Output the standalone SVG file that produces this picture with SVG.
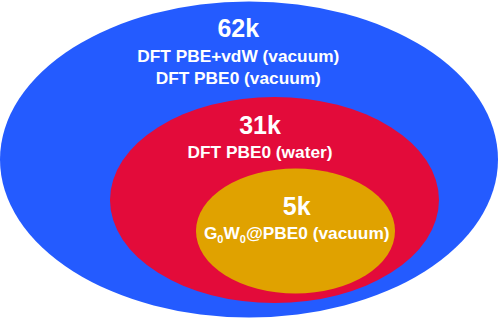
<svg xmlns="http://www.w3.org/2000/svg" width="498" height="319" viewBox="0 0 498 319">
<style>
text{font-family:"Liberation Sans",Arial,sans-serif;font-weight:bold;fill:#ffffff;text-anchor:middle}
.big{font-size:25px}
.lbl{font-size:17.3px}
.sub{font-size:11px}
</style>
<rect width="498" height="319" fill="#ffffff"/>
<g id="node-62k">
<ellipse cx="249" cy="159.5" rx="249" ry="158" fill="#245BFF"/>
<text class="big" x="238.3" y="36.7">62k</text>
<text class="lbl" x="238.3" y="62.3">DFT PBE+vdW (vacuum)</text>
<text class="lbl" x="238.3" y="84">DFT PBE0 (vacuum)</text>
</g>
<g id="node-31k">
<ellipse cx="274.5" cy="200" rx="164.5" ry="103" fill="#E30B3A"/>
<text class="big" x="260" y="134">31k</text>
<text class="lbl" x="260" y="158.3">DFT PBE0 (water)</text>
</g>
<g id="node-5k">
<ellipse cx="295.5" cy="231" rx="99.5" ry="62.5" fill="#E0A200"/>
<text class="big" x="296.7" y="215">5k</text>
<text class="lbl" x="296.7" y="239.3">G<tspan class="sub" dy="4">0</tspan><tspan dy="-4">W</tspan><tspan class="sub" dy="4">0</tspan><tspan dy="-4">@PBE0 (vacuum)</tspan></text>
</g>
<g id="connectors"/>
</svg>
